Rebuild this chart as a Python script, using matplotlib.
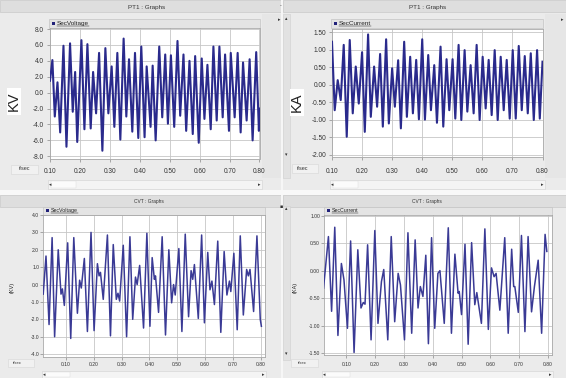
import matplotlib
matplotlib.use("Agg")
import matplotlib.pyplot as plt
from matplotlib.patches import Rectangle

plt.rcParams['font.family'] = ['Liberation Sans', 'DejaVu Sans']

# ---------------- data ----------------
pt1_volt_t = [0.100, 0.108, 0.116, 0.125, 0.134, 0.145, 0.155, 0.167, 0.176, 0.184,
              0.191, 0.205, 0.215, 0.225, 0.236, 0.244, 0.254, 0.264, 0.275, 0.285,
              0.295, 0.306, 0.315, 0.325, 0.335, 0.346, 0.355, 0.364, 0.375, 0.384,
              0.395, 0.405, 0.416, 0.423, 0.436, 0.443, 0.453, 0.465, 0.475, 0.485,
              0.494, 0.504, 0.515, 0.526, 0.535, 0.546, 0.555, 0.566, 0.577, 0.585,
              0.597, 0.607, 0.616, 0.626, 0.637, 0.646, 0.657, 0.666, 0.677, 0.685,
              0.698, 0.704, 0.717, 0.727, 0.737, 0.745, 0.757, 0.767, 0.777, 0.789,
              0.798, 0.800]
pt1_volt = [1.5, 4.1, -3.0, 1.3, -5.0, 5.9, -6.8, 6.2, -2.4, 2.6,
            -6.2, 6.6, -4.6, 6.1, -4.5, 2.6, -2.6, 5.0, -7.3, 5.6,
            -2.6, 3.3, -4.3, 5.0, -5.9, 6.8, -3.0, 4.2, -4.9, 5.0,
            -5.7, 5.8, -5.6, 3.3, -4.3, 3.4, -6.0, 5.8, -3.1, 4.8,
            -3.9, 4.7, -4.3, 6.5, -2.9, 4.8, -4.8, 4.0, -5.2, 4.6,
            -6.3, 4.3, -3.3, 3.5, -4.6, 5.8, -3.5, 5.8, -3.1, 4.8,
            -4.8, 5.0, -3.1, 5.0, -5.0, 3.8, -3.5, 4.2, -6.0, 5.1,
            -4.8, -2.0]

pt1_curr_t = [0.100, 0.109, 0.119, 0.129, 0.139, 0.149, 0.159, 0.169, 0.179, 0.189,
              0.200, 0.209, 0.220, 0.229, 0.240, 0.250, 0.260, 0.269, 0.280, 0.289,
              0.300, 0.309, 0.320, 0.329, 0.340, 0.349, 0.360, 0.369, 0.380, 0.389,
              0.400, 0.409, 0.420, 0.429, 0.440, 0.449, 0.461, 0.470, 0.481, 0.490,
              0.501, 0.510, 0.521, 0.530, 0.541, 0.550, 0.561, 0.571, 0.581, 0.591,
              0.601, 0.611, 0.621, 0.631, 0.641, 0.651, 0.661, 0.671, 0.681, 0.691,
              0.701, 0.711, 0.721, 0.731, 0.741, 0.751, 0.761, 0.771, 0.782, 0.791,
              0.800]
pt1_curr = [1.23, -0.73, 0.13, -0.44, 1.14, -1.49, 1.28, -0.82, 0.52, -0.54,
            0.93, -1.35, 1.44, -0.92, 0.52, -0.63, 0.88, -1.20, 1.30, -1.11,
            0.47, -0.63, 0.70, -1.25, 1.23, -0.92, 0.80, -0.82, 0.71, -0.99,
            1.30, -1.00, 0.85, -0.73, 0.56, -1.09, 1.09, -1.20, 0.73, -0.73,
            0.73, -0.97, 1.14, -1.01, 0.99, -0.77, 0.56, -0.82, 1.14, -1.01,
            0.80, -0.68, 0.71, -0.87, 0.99, -1.01, 0.80, -0.73, 0.71, -0.97,
            0.99, -0.97, 1.11, -0.73, 0.82, -0.82, 0.90, -1.01, 0.99, -0.97,
            0.66]

cvt_volt_t = [0.018, 0.028, 0.039, 0.050, 0.059, 0.072, 0.082, 0.087, 0.094, 0.106,
              0.117, 0.128, 0.141, 0.149, 0.155, 0.166, 0.177, 0.190, 0.201, 0.213,
              0.219, 0.224, 0.234, 0.249, 0.260, 0.270, 0.281, 0.287, 0.293, 0.306,
              0.318, 0.330, 0.340, 0.350, 0.356, 0.365, 0.379, 0.391, 0.402, 0.410,
              0.418, 0.422, 0.433, 0.446, 0.458, 0.470, 0.480, 0.487, 0.493, 0.506,
              0.517, 0.529, 0.541, 0.550, 0.556, 0.562, 0.576, 0.588, 0.598, 0.610,
              0.618, 0.625, 0.634, 0.646, 0.657, 0.669, 0.679, 0.688, 0.693, 0.704,
              0.716, 0.727, 0.738, 0.750, 0.756, 0.762, 0.775, 0.787, 0.799, 0.803]
cvt_volt = [-0.55, 1.64, -2.3, 2.7, -3.0, 2.0, -0.55, -0.25, -1.2, 2.4,
            -3.1, 2.7, -1.65, 0.25, -0.2, 1.5, -2.7, 3.0, -2.65, 1.2,
            0.5, 0.7, -0.85, 2.85, -2.95, 2.3, -0.85, -0.5, -0.95, 2.26,
            -3.0, 2.75, -2.0, 0.43, 0.0, 1.1, -2.5, 2.95, -2.4, 1.55,
            0.3, 0.5, -1.6, 2.75, -2.9, 2.0, -1.05, 0.0, -0.6, 2.07,
            -2.7, 2.9, -1.85, 0.8, 0.3, 1.15, -1.95, 2.85, -2.2, 1.85,
            -0.3, 0.2, -1.15, 2.5, -2.75, 1.9, -0.6, 0.2, -0.4, 1.8,
            -2.6, 2.8, -1.75, 0.87, 0.5, 0.87, -1.55, 2.8, -2.0, -2.4]

cvt_curr_t = [0.021, 0.038, 0.049, 0.060, 0.071, 0.083, 0.092, 0.104, 0.115, 0.127,
              0.140, 0.151, 0.159, 0.165, 0.174, 0.186, 0.199, 0.210, 0.222, 0.230,
              0.244, 0.256, 0.268, 0.280, 0.288, 0.302, 0.314, 0.327, 0.339, 0.349,
              0.357, 0.366, 0.376, 0.385, 0.396, 0.407, 0.418, 0.425, 0.440, 0.454,
              0.465, 0.477, 0.488, 0.492, 0.500, 0.512, 0.523, 0.535, 0.546, 0.553,
              0.569, 0.581, 0.593, 0.604, 0.613, 0.620, 0.633, 0.650, 0.662, 0.674,
              0.681, 0.685, 0.697, 0.708, 0.720, 0.731, 0.743, 0.753, 0.766, 0.778,
              0.790, 0.796]
cvt_curr = [-0.32, 0.62, -0.74, 0.79, -1.18, 0.13, -0.17, -1.05, 0.54, -1.49,
            0.38, -0.68, -0.58, -0.61, 0.47, -1.26, 0.73, -0.96, -0.20, 0.02,
            -1.26, 0.62, -0.93, -0.05, -0.26, -1.26, 0.69, -1.14, 0.56, -0.68,
            -0.29, -0.47, 0.28, -1.33, 0.60, -1.05, -0.05, 0.00, -0.96, 0.78,
            -1.14, 0.30, -0.41, -0.38, -0.80, 0.48, -1.34, 0.51, -0.62, -0.40,
            -0.96, 0.76, -1.07, 0.05, -0.11, -0.05, -0.72, 0.60, -1.14, 0.39,
            -0.29, -0.29, -0.76, 0.64, -1.11, 0.62, -0.75, -0.29, 0.19, -1.14,
            0.66, 0.35]

time_ticks = [0.10, 0.20, 0.30, 0.40, 0.50, 0.60, 0.70, 0.80]
time_tick_labels = ['0.10', '0.20', '0.30', '0.40', '0.50', '0.60', '0.70', '0.80']
pt1_volt_ticks = [8.0, 6.0, 4.0, 2.0, 0.0, -2.0, -4.0, -6.0, -8.0]
pt1_curr_ticks = [1.50, 1.00, 0.50, 0.00, -0.50, -1.00, -1.50, -2.00]
cvt_volt_ticks = [4.0, 3.0, 2.0, 1.0, 0.0, -1.0, -2.0, -3.0, -4.0]
cvt_curr_ticks = [1.00, 0.50, 0.00, -0.50, -1.00, -1.50]

# ---------------- figure ----------------
W, H, DPI = 566, 378, 100
fig = plt.figure(figsize=(W / DPI, H / DPI), dpi=DPI)
fig.patch.set_facecolor('white')

bg = fig.add_axes([0, 0, 1, 1])
bg.set_xlim(0, W)
bg.set_ylim(H, 0)
bg.axis('off')


def rect(x0, y0, x1, y1, fc, ec='none', lw=0.6, z=1):
    bg.add_patch(Rectangle((x0, y0), x1 - x0, y1 - y0, facecolor=fc,
                           edgecolor=ec, linewidth=lw, zorder=z))


def axes_px(x0, y0, x1, y1):
    return fig.add_axes([x0 / W, 1 - y1 / H, (x1 - x0) / W, (y1 - y0) / H])


underlines = []


def panel(box, title, title_xy, tsize, legend_box, series, lsize, plot_box,
          xlim, ylim, yticks, yfmt, t, v, lcolor, lw, fsize, ypad, xpad,
          ylabel, ylabel_xy, ylsize, ylabel_box, tsec_xy, tsec_box, scroll):
    x0, y0, x1, y1 = box
    rect(x0, y0, x1, y1, '#ebebeb')
    # title bar
    rect(x0, y0, x1, y0 + 12, '#dedede', ec='#c9c9c9', lw=0.5)
    bg.text(title_xy[0], title_xy[1], title, ha='center', va='center',
            fontsize=tsize, color='#333333', zorder=3)
    # legend strip
    lx0, ly0, lx1, ly1 = legend_box
    rect(lx0, ly0, lx1, ly1, '#e4e4e4', ec='#c4c4c4', lw=0.5, z=2)
    my = (ly0 + ly1) / 2
    rect(lx0 + 3, my - 1.4, lx0 + 5.8, my + 1.4, '#22227a', z=3)
    tx = bg.text(lx0 + 8, my, series, ha='left', va='center', fontsize=lsize,
                 color='#222222', zorder=3)
    underlines.append((tx, my))
    # y label
    if ylabel_box is not None:
        rect(*ylabel_box, 'white', z=2)
    bg.text(ylabel_xy[0], ylabel_xy[1], ylabel, rotation=90, ha='center',
            va='center', fontsize=ylsize, color='#222222', zorder=3)
    # t/sec box
    if tsec_box is not None:
        rect(*tsec_box, '#f1f1f1', ec='#d6d6d6', lw=0.4, z=2)
    bg.text(tsec_xy[0], tsec_xy[1], 't/sec', ha='center', va='center',
            fontsize=fsize * 0.85, color='#333333', zorder=3)
    # scrollbar
    sx0, sy0, sx1, sy1 = scroll
    rect(sx0, sy0, sx1, sy1, '#f4f4f4', ec='#d2d2d2', lw=0.4, z=2)
    rect(sx0 + 3, sy0 + 1, sx0 + 28, sy1 - 1, '#fbfbfb', ec='#dadada', lw=0.3, z=2)
    bg.text(sx0 + 2, (sy0 + sy1) / 2, '\u25c2', ha='center', va='center',
            fontsize=3.5, color='#333333', zorder=3, family='DejaVu Sans')
    bg.text(sx1 - 3, (sy0 + sy1) / 2, '\u25b8', ha='center', va='center',
            fontsize=3.5, color='#333333', zorder=3, family='DejaVu Sans')

    # plot area
    ax = axes_px(*plot_box)
    ax.set_facecolor('white')
    ax.plot(t, v, color=lcolor, lw=lw, solid_joinstyle='round', zorder=3)
    ax.set_xlim(*xlim)
    ax.set_ylim(*ylim)
    ax.set_xticks(time_ticks)
    ax.set_xticklabels(time_tick_labels)
    ax.set_yticks(yticks)
    ax.set_yticklabels([yfmt % y for y in yticks])
    ax.grid(True, color='#c6c6c6', lw=0.6)
    ax.set_axisbelow(True)
    for s in ax.spines.values():
        s.set_color('#a8a8a8')
        s.set_linewidth(0.6)
    ax.tick_params(axis='both', labelsize=fsize, labelcolor='#333333',
                   color='#888888', length=2, width=0.5)
    ax.tick_params(axis='y', pad=ypad)
    ax.tick_params(axis='x', pad=xpad)
    return ax


# PT1 voltage (top-left)
panel(box=(0, 0, 281, 190), title='PT1 : Graphs', title_xy=(147, 8), tsize=4.5,
      legend_box=(49, 19, 260, 28), series='SecVoltage', lsize=4.6,
      plot_box=(50, 28, 259.5, 159), xlim=(0.10, 0.80), ylim=(-8.34, 8.13),
      yticks=pt1_volt_ticks, yfmt='%.1f', t=pt1_volt_t, v=pt1_volt,
      lcolor='#2a2a8c', lw=1.5, fsize=4.7, ypad=2.5, xpad=4.6,
      ylabel='KV', ylabel_xy=(14, 101), ylsize=10.5, ylabel_box=(7, 88, 21, 115),
      tsec_xy=(25, 169), tsec_box=(11, 165, 38, 174), scroll=(48, 180, 262, 189))

# PT1 current (top-right)
panel(box=(283, 0, 566, 190), title='PT1 : Graphs', title_xy=(428, 8), tsize=4.5,
      legend_box=(331, 19, 543, 28), series='SecCurrent', lsize=4.6,
      plot_box=(332, 29, 542.5, 157), xlim=(0.10, 0.80), ylim=(-2.07, 1.595),
      yticks=pt1_curr_ticks, yfmt='%.2f', t=pt1_curr_t, v=pt1_curr,
      lcolor='#2a2a8c', lw=1.5, fsize=4.7, ypad=2.0, xpad=5.6,
      ylabel='KA', ylabel_xy=(297, 102), ylsize=10.5, ylabel_box=(290, 89, 304, 116),
      tsec_xy=(303, 168), tsec_box=(292, 164, 318, 173), scroll=(330, 180, 545, 189))

# CVT voltage (bottom-left)
panel(box=(0, 195, 281, 378), title='CVT : Graphs', title_xy=(149, 201), tsize=3.5,
      legend_box=(43, 207, 265, 214.5), series='SecVoltage', lsize=3.8,
      plot_box=(43.3, 214.5, 265, 356.7), xlim=(0.0183, 0.816), ylim=(-4.15, 4.03),
      yticks=cvt_volt_ticks, yfmt='%.1f', t=cvt_volt_t, v=cvt_volt,
      lcolor='#3a3a95', lw=1.1, fsize=3.6, ypad=1.0, xpad=2.0,
      ylabel='(KV)', ylabel_xy=(12, 287), ylsize=4.0, ylabel_box=None,
      tsec_xy=(17, 363), tsec_box=(8, 359, 34, 367), scroll=(42, 371, 266, 378))

# CVT current (bottom-right)
panel(box=(283, 195, 566, 378), title='CVT : Graphs', title_xy=(427, 201), tsize=3.5,
      legend_box=(323.7, 207, 552, 214.5), series='SecCurrent', lsize=3.8,
      plot_box=(323.7, 214.5, 552, 355), xlim=(0.0216, 0.814), ylim=(-1.536, 1.022),
      yticks=cvt_curr_ticks, yfmt='%.2f', t=cvt_curr_t, v=cvt_curr,
      lcolor='#3a3a95', lw=1.1, fsize=3.6, ypad=0.6, xpad=2.8,
      ylabel='(KA)', ylabel_xy=(295, 287), ylsize=4.0, ylabel_box=None,
      tsec_xy=(302, 363), tsec_box=(291, 359, 318, 367), scroll=(322, 371, 553, 378))

# separators and side strips
rect(262, 14, 281, 178, '#e6e6e6', z=1.5)
rect(545, 14, 566, 178, '#e6e6e6', z=1.5)
rect(283, 14, 290, 178, '#e2e2e2', ec='#cfcfcf', lw=0.4, z=1.5)
rect(283, 206, 290, 360, '#e2e2e2', ec='#cfcfcf', lw=0.4, z=1.5)
rect(281, 0, 283, 378, '#f6f6f6', z=1.6)
rect(0, 190, 566, 195, '#f8f8f8', z=1.6)
for (x, y, s) in [(279, 20, '\u25b8'), (562, 20, '\u25b8'), (281, 207, '\u25aa'),
                  (286.5, 19, '\u25b4'), (286.5, 155, '\u25be'),
                  (286.5, 209, '\u25b4'), (286.5, 354, '\u25be'), (281, 6, '-')]:
    bg.text(x, y, s, ha='center', va='center', fontsize=3.5, color='#333333',
            zorder=3, family='DejaVu Sans')

# underline the legend names
fig.canvas.draw()
renderer = fig.canvas.get_renderer()
inv = bg.transData.inverted()
for tx, my in underlines:
    bb = tx.get_window_extent(renderer)
    (ax0, ay0), (ax1, ay1) = inv.transform([[bb.x0, bb.y0], [bb.x1, bb.y1]])
    bg.plot([ax0, ax1], [ay0 - 0.3, ay0 - 0.3], color='#222222', lw=0.35, zorder=3)

fig.savefig('out.png', dpi=DPI)
